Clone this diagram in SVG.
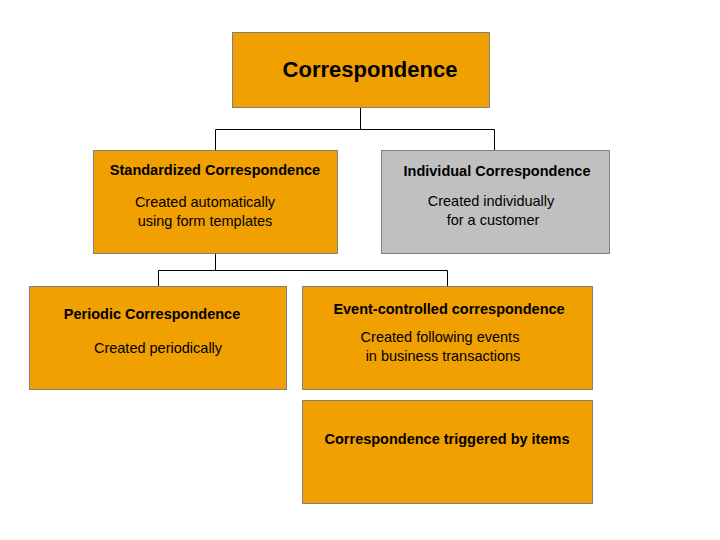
<svg xmlns="http://www.w3.org/2000/svg" width="720" height="540" viewBox="0 0 720 540">
<style>
.o{fill:#F0A000;stroke:#808080;stroke-width:1}
.g{fill:#C0C0C0;stroke:#808080;stroke-width:1}
text{font-family:"Liberation Sans",Arial,sans-serif;fill:#000}
.h{font-weight:bold;font-size:14.5px}
.t{font-size:14.5px}
.c{fill:none;stroke:#000;stroke-width:1}
</style>
<rect width="720" height="540" fill="#fff"/>
<g id="connectors">
<path class="c" d="M360.5 108V129.5H215.5V150M360.5 129.5H494.5V150"/>
<path class="c" d="M215.5 254V270.5H158.5V286M215.5 270.5H447.5V286"/>
</g>
<g id="root"><rect class="o" x="232.5" y="32.5" width="257" height="75"/>
<text x="370" y="77" text-anchor="middle" font-weight="bold" font-size="22">Correspondence</text></g>
<g id="standard"><rect class="o" x="93.5" y="150.5" width="244" height="103"/>
<text class="h" x="215" y="175" text-anchor="middle">Standardized Correspondence</text>
<text class="t" x="205" y="207" text-anchor="middle">Created automatically</text>
<text class="t" x="205" y="226" text-anchor="middle">using form templates</text></g>
<g id="individual"><rect class="g" x="381.5" y="150.5" width="228" height="103"/>
<text class="h" x="497" y="176" text-anchor="middle">Individual Correspondence</text>
<text class="t" x="491" y="206" text-anchor="middle">Created individually</text>
<text class="t" x="493" y="225" text-anchor="middle">for a customer</text></g>
<g id="periodic"><rect class="o" x="29.5" y="286.5" width="257" height="103"/>
<text class="h" x="152" y="319" text-anchor="middle">Periodic Correspondence</text>
<text class="t" x="158" y="353" text-anchor="middle">Created periodically</text></g>
<g id="event"><rect class="o" x="302.5" y="286.5" width="290" height="103"/>
<text class="h" x="449" y="314" text-anchor="middle">Event-controlled correspondence</text>
<text class="t" x="440" y="342" text-anchor="middle">Created following events</text>
<text class="t" x="443" y="361" text-anchor="middle">in business transactions</text></g>
<g id="triggered"><rect class="o" x="302.5" y="400.5" width="290" height="103"/>
<text class="h" x="447" y="444" text-anchor="middle">Correspondence triggered by items</text></g>
</svg>
